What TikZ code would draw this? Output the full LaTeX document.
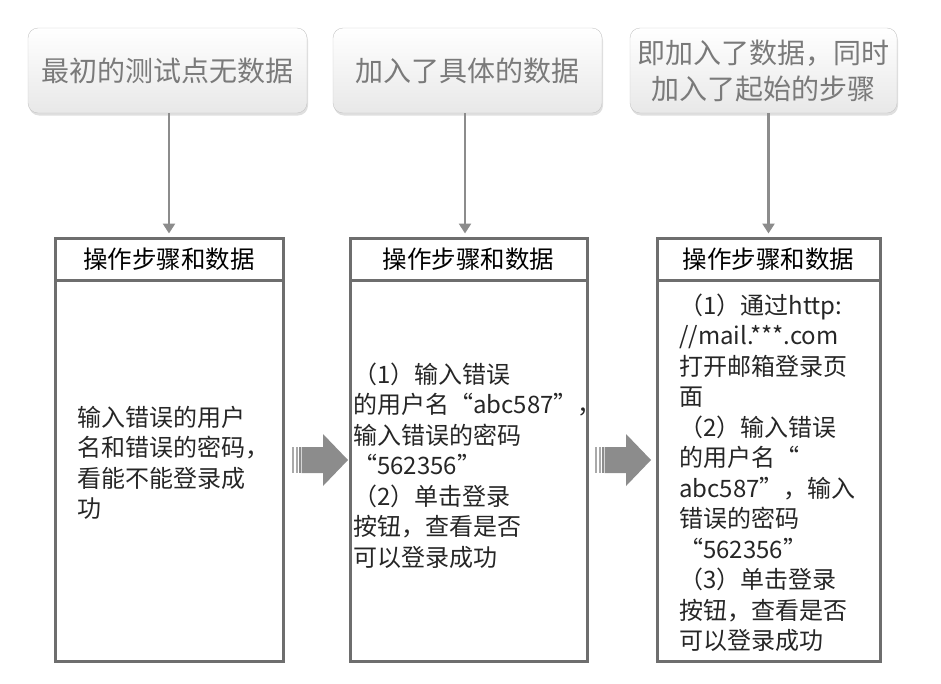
\documentclass[tikz,border=0pt]{standalone}
\usepackage{fontspec}
\setmainfont{Noto Sans CJK SC}
\usetikzlibrary{shadows,arrows.meta}
\definecolor{framegray}{HTML}{6E6E6E}
\definecolor{linegray}{HTML}{8C8C8C}
\definecolor{labelgray}{HTML}{7A7A7A}

\begin{document}
\begin{tikzpicture}[
    x=1pt, y=-1pt,
    topbox/.style={
      rectangle, rounded corners=10pt, draw=gray!45, align=center,
      top color=white, bottom color=gray!18, text=labelgray,
      drop shadow={shadow xshift=1pt, shadow yshift=-2.5pt, opacity=0.25},
      minimum height=85pt, inner sep=2pt,
      font=\fontsize{28}{36}\selectfont
    },
    headbox/.style={
      rectangle, draw=framegray, line width=3pt, fill=white,
      minimum height=42pt, inner sep=0pt, font=\fontsize{24.5}{28}\selectfont
    },
    bodybox/.style={
      rectangle, draw=framegray, line width=3pt,
      minimum height=381pt, inner sep=0pt
    },
    % base = baseline of the last line
    steptext/.style={
      anchor=base west, align=left, inner sep=0pt, text=black!85,
      font=\fontsize{24}{30.5}\selectfont
    },
    downarrow/.style={draw=linegray, line width=2.5pt,
      -{Triangle[length=10pt, width=12pt]}, shorten >=3pt},
    bigarrow/.style={fill=linegray},
  ]
  \useasboundingbox (0,0) rectangle (941,683);

  % Top notes
  \node[topbox, minimum width=279pt] (top1) at (167.5,70.5) {最初的测试点无数据};
  \node[topbox, minimum width=269pt] (top2) at (467.5,70.5) {加入了具体的数据};
  \node[topbox, minimum width=267pt] (top3) at (763.5,70.5) {即加入了数据，同时\\加入了起始的步骤};

  % Step boxes: header row and body
  \node[bodybox, minimum width=228pt] (body1) at (169,470.5) {};
  \node[headbox, minimum width=228pt] (head1) at (169,259) {操作步骤和数据};
  \node[bodybox, minimum width=237pt] (body2) at (468.5,470.5) {};
  \node[headbox, minimum width=237pt] (head2) at (468.5,259) {操作步骤和数据};
  \node[bodybox, minimum width=223pt] (body3) at (768.5,470.5) {};
  \node[headbox, minimum width=223pt] (head3) at (768.5,259) {操作步骤和数据};

  % Texts in the bodies
  \node[steptext] (text1) at (77,517.5) {输入错误的用户\\名和错误的密码，\\看能不能登录成\\功};
  \node[steptext] (text2) at (353,566) {（1）输入错误\\的用户名“abc587”，\\输入错误的密码\\“562356”\\（2）单击登录\\按钮，查看是否\\可以登录成功};
  \node[steptext] (text3) at (679,649.5) {（1）通过http:\\//mail.***.com\\打开邮箱登录页\\面\\（2）输入错误\\的用户名“\\abc587”，输入\\错误的密码\\“562356”\\（3）单击登录\\按钮，查看是否\\可以登录成功};

  % Arrows from notes down to the boxes
  \draw[downarrow] (top1.south -| head1.north) -- (head1.north);
  \draw[downarrow] (top2.south -| 465,0) -- (head2.north -| 465,0);
  \draw[downarrow] (top3.south -| head3.north) -- (head3.north);

  % Block arrows between the boxes
  \foreach \bx/\name in {292/arrow1, 595/arrow2} {
    \begin{scope}[shift={(\bx,460)}]
      \coordinate (\name) at (0,0);
      \fill[bigarrow, opacity=0.75] (0,-13) rectangle (2,13);
      \fill[bigarrow, opacity=0.75] (3.5,-13) rectangle (5.5,13);
      \fill[bigarrow] (7,-13) rectangle (8.5,13);
      \fill[bigarrow] (9.5,-13) -- (31,-13) -- (31,-26) -- (56,0)
        -- (31,26) -- (31,13) -- (9.5,13) -- cycle;
    \end{scope}
  }

\end{tikzpicture}
\end{document}
